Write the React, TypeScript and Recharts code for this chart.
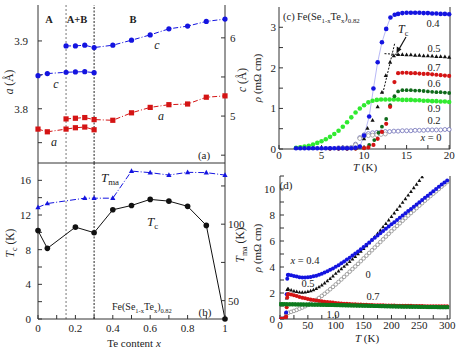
import React from 'react';
import { LineChart, Line, XAxis, YAxis, ReferenceLine } from 'recharts';

const FONT = '"Liberation Serif", "Times New Roman", serif';
const INK = '#222';

// ---------- panel (a): lattice parameters ----------
const aLowX = [0, 0.05, 0.15, 0.2, 0.25, 0.3];
const aLowA = [3.770, 3.766, 3.770, 3.772, 3.773, 3.769];
const aLowC = [5.517, 5.543, 5.56, 5.564, 5.568, 5.555];
const aUpX = [0.15, 0.2, 0.25, 0.3, 0.4, 0.5, 0.6, 0.7, 0.8, 0.9, 1.0];
const aUpA = [3.785, 3.786, 3.787, 3.784, 3.783, 3.794, 3.802, 3.806, 3.807, 3.817, 3.819];
const aUpC = [5.897, 5.897, 5.906, 5.876, 5.906, 5.97, 6.038, 6.115, 6.15, 6.21, 6.24];

// ---------- panel (b): Tc and Tma ----------
const tcX = [0, 0.05, 0.2, 0.3, 0.4, 0.5, 0.6, 0.7, 0.8, 0.9, 1.0];
const tcV = [10.2, 8.15, 10.6, 9.96, 12.6, 13.1, 13.8, 13.6, 13.0, 10.8, 0];
const tmaX = [0, 0.05, 0.25, 0.3, 0.4, 0.5, 0.6, 0.7, 0.8, 0.9, 1.0];
const tmaV = [111, 113.5, 117, 117, 117, 134.7, 133.7, 132.1, 133.9, 133.7, 132.1];

const xTicks01 = [0, 0.1, 0.2, 0.3, 0.4, 0.5, 0.6, 0.7, 0.8, 0.9, 1];

// ---------- panel (c): low-T resistivity [T, rho] ----------
const c04: [number, number][] = [[2,0.02],[2.5,0.02],[3,0.02],[3.5,0.02],[4,0.02],[4.5,0.02],[5,0.02],[5.5,0.02],[6,0.02],[6.5,0.02],[7,0.02],[7.5,0.02],[8,0.02],[8.5,0.02],[9,0.03],[9.5,0.06],[10,0.33],[10.6,0.8],[11.1,1.49],[11.6,2.14],[12.1,2.63],[12.6,2.96],[13.1,3.24],[13.6,3.31],[14,3.33],[14.5,3.35],[15,3.36],[15.5,3.36],[16,3.36],[16.5,3.36],[17,3.35],[17.5,3.35],[18,3.34],[18.5,3.34],[19,3.33],[19.5,3.33],[20,3.32]];
const c05: [number, number][] = [[4,0.02],[5,0.02],[6,0.02],[7,0.02],[8,0.02],[9,0.03],[9.5,0.05],[10,0.25],[10.4,0.51],[11,0.71],[11.6,1.04],[12.1,1.4],[12.55,1.81],[13.06,2.14],[13.5,2.3],[14,2.33],[14.5,2.33],[15,2.32],[15.5,2.32],[16,2.31],[16.5,2.31],[17,2.3],[17.5,2.3],[18,2.29],[18.5,2.28],[19,2.28],[19.5,2.27],[20,2.26]];
const c07: [number, number][] = [[6,0.01],[7,0.01],[8,0.01],[9,0.01],[10,0.02],[10.5,0.04],[11.1,0.1],[11.6,0.25],[12.1,0.42],[12.6,0.62],[13.06,1.04],[13.57,1.65],[14,1.87],[14.5,1.88],[15,1.88],[15.5,1.87],[16,1.87],[16.5,1.86],[17,1.85],[17.5,1.85],[18,1.84],[18.5,1.83],[19,1.82],[19.5,1.81],[20,1.8]];
const c06: [number, number][] = [[6,0.01],[7,0.01],[8,0.01],[9,0.01],[10,0.03],[10.6,0.1],[11.2,0.22],[11.7,0.4],[12.1,0.55],[12.6,0.74],[13.06,1.08],[13.57,1.3],[14,1.42],[14.5,1.45],[15,1.45],[15.5,1.45],[16,1.44],[16.5,1.44],[17,1.43],[17.5,1.42],[18,1.41],[18.5,1.4],[19,1.4],[19.5,1.39],[20,1.38]];
const c09: [number, number][] = [[2,0.03],[2.5,0.04],[3,0.06],[3.5,0.08],[4,0.11],[4.5,0.15],[5,0.19],[5.5,0.24],[6,0.3],[6.5,0.37],[7,0.45],[7.5,0.55],[8,0.66],[8.5,0.78],[9,0.9],[9.5,1.0],[10,1.08],[10.5,1.15],[11,1.19],[11.5,1.21],[12,1.22],[12.5,1.22],[13,1.22],[13.5,1.22],[14,1.22],[14.5,1.21],[15,1.21],[15.5,1.21],[16,1.2],[16.5,1.2],[17,1.19],[17.5,1.19],[18,1.18],[18.5,1.18],[19,1.17],[19.5,1.17],[20,1.16]];
const c02: [number, number][] = [[8,0.02],[8.5,0.03],[9,0.1],[9.5,0.26],[10,0.31],[10.5,0.33],[11,0.34],[11.5,0.35],[12,0.36],[12.5,0.37]];
const c00: [number, number][] = [[7,0.03],[7.5,0.03],[8,0.03],[8.5,0.04],[9,0.12],[9.5,0.28],[10,0.35],[10.5,0.38],[11,0.4],[11.5,0.41],[12,0.42],[12.5,0.43],[13,0.43],[13.5,0.44],[14,0.44],[14.5,0.45],[15,0.45],[15.5,0.45],[16,0.46],[16.5,0.46],[17,0.46],[17.5,0.47],[18,0.47],[18.5,0.47],[19,0.47],[19.5,0.48],[20,0.48]];

// ---------- panel (d): resistivity up to 300 K [T, rho] ----------
const d04: [number, number][] = [[2,0.02],[4,0.02],[6,0.02],[8,0.03],[10,0.1],[11,0.5],[12,1.9],[13,3.1],[14,3.38],[15,3.4],[20,3.36],[25,3.3],[30,3.26],[35,3.22],[40,3.2],[45,3.2],[50,3.21],[55,3.24],[60,3.28],[65,3.33],[70,3.4],[75,3.48],[80,3.57],[85,3.67],[90,3.78],[95,3.89],[100,4.01],[105,4.14],[110,4.28],[115,4.42],[120,4.57],[125,4.72],[130,4.88],[135,5.04],[140,5.2],[145,5.37],[150,5.54],[155,5.71],[160,5.89],[165,6.07],[170,6.25],[175,6.42],[180,6.6],[185,6.77],[190,6.94],[195,7.11],[200,7.28],[205,7.45],[210,7.62],[215,7.79],[220,7.96],[225,8.13],[230,8.3],[235,8.47],[240,8.64],[245,8.81],[250,8.98],[255,9.15],[260,9.32],[265,9.49],[270,9.66],[275,9.83],[280,10.0],[285,10.17],[290,10.34],[295,10.5],[300,10.66]];
const d05: [number, number][] = [[2,0.02],[5,0.02],[8,0.03],[10,0.1],[11,0.5],[12,1.6],[13,2.25],[14,2.32],[15,2.3],[20,2.22],[25,2.15],[30,2.1],[35,2.06],[40,2.05],[45,2.06],[50,2.1],[55,2.16],[60,2.24],[65,2.34],[70,2.46],[75,2.6],[80,2.76],[85,2.93],[90,3.1],[95,3.3],[100,3.5],[105,3.68],[110,3.86],[115,4.04],[120,4.22],[125,4.41],[130,4.6],[135,4.8],[140,5.0],[145,5.2],[150,5.41],[155,5.63],[160,5.85],[165,6.08],[170,6.32],[175,6.57],[180,6.82],[185,7.08],[190,7.34],[195,7.6],[200,7.87],[205,8.14],[210,8.41],[215,8.68],[220,8.96],[225,9.24],[230,9.52],[235,9.8],[240,10.08],[245,10.36],[250,10.64],[255,10.92]];
const d00: [number, number][] = [[2,0.02],[5,0.02],[8,0.03],[10,0.15],[11,0.38],[12,0.45],[15,0.48],[20,0.55],[25,0.62],[30,0.7],[35,0.79],[40,0.88],[45,0.98],[50,1.08],[55,1.2],[60,1.33],[65,1.47],[70,1.62],[75,1.78],[80,1.94],[85,2.11],[90,2.29],[95,2.47],[100,2.66],[105,2.85],[110,3.04],[115,3.24],[120,3.44],[125,3.64],[130,3.84],[135,4.04],[140,4.24],[145,4.45],[150,4.66],[155,4.87],[160,5.08],[165,5.29],[170,5.5],[175,5.71],[180,5.92],[185,6.13],[190,6.34],[195,6.55],[200,6.76],[205,6.96],[210,7.16],[215,7.36],[220,7.56],[225,7.76],[230,7.96],[235,8.15],[240,8.34],[245,8.53],[250,8.72],[255,8.91],[260,9.1],[265,9.28],[270,9.46],[275,9.64],[280,9.82],[285,10.0],[290,10.18],[295,10.36],[300,10.54]];
const d07: [number, number][] = [[2,0.02],[5,0.02],[8,0.03],[10,0.05],[11,0.2],[12,0.9],[13,1.65],[14,1.88],[15,1.92],[20,1.88],[25,1.82],[30,1.76],[35,1.7],[40,1.64],[45,1.59],[50,1.54],[55,1.5],[60,1.46],[65,1.42],[70,1.39],[75,1.36],[80,1.33],[85,1.3],[90,1.28],[95,1.26],[100,1.24],[105,1.22],[110,1.2],[115,1.18],[120,1.17],[125,1.15],[130,1.14],[135,1.13],[140,1.12],[145,1.11],[150,1.1],[155,1.09],[160,1.08],[165,1.07],[170,1.06],[175,1.06],[180,1.05],[185,1.05],[190,1.04],[195,1.04],[200,1.03],[205,1.03],[210,1.02],[215,1.02],[220,1.02],[225,1.01],[230,1.01],[235,1.01],[240,1.0],[245,1.0],[250,1.0],[255,1.0],[260,0.99],[265,0.99],[270,0.99],[275,0.99],[280,0.98],[285,0.98],[290,0.98],[295,0.98],[300,0.98]];
const d10: [number, number][] = [[2,1.14],[5,1.14],[10,1.14],[15,1.13],[20,1.13],[25,1.13],[30,1.12],[35,1.12],[40,1.12],[45,1.11],[50,1.11],[55,1.11],[60,1.1],[65,1.1],[70,1.1],[75,1.09],[80,1.09],[85,1.08],[90,1.08],[95,1.08],[100,1.07],[105,1.07],[110,1.06],[115,1.06],[120,1.05],[125,1.05],[130,1.04],[135,1.04],[140,1.03],[145,1.03],[150,1.02],[155,1.02],[160,1.01],[165,1.01],[170,1.0],[175,1.0],[180,0.99],[185,0.99],[190,0.98],[195,0.98],[200,0.97],[205,0.97],[210,0.96],[215,0.96],[220,0.95],[225,0.95],[230,0.95],[235,0.94],[240,0.94],[245,0.94],[250,0.93],[255,0.93],[260,0.93],[265,0.92],[270,0.92],[275,0.92],[280,0.92],[285,0.91],[290,0.91],[295,0.91],[300,0.91]];

const zip = (xs: number[], ys: number[]) => xs.map((x, i) => ({ x, y: ys[i] }));
const pts = (arr: [number, number][]) => arr.map(([x, y]) => ({ x, y }));

const BLUE = '#1414e0';
const RED = '#d41414';
const DKGREEN = '#0f6a1a';
const LTGREEN = '#30ea30';

const mkDot = (kind: string, color: string, s: number) => (p: any) => {
  const { cx, cy, index } = p;
  const k = `d${index}`;
  if (cx == null || cy == null || isNaN(cx) || isNaN(cy)) return <g key={k} />;
  if (kind === 'square') return <rect key={k} x={cx - s} y={cy - s} width={2 * s} height={2 * s} fill={color} />;
  if (kind === 'triangle')
    return <polygon key={k} points={`${cx},${cy - s * 1.1} ${cx - s},${cy + s * 0.7} ${cx + s},${cy + s * 0.7}`} fill={color} />;
  if (kind === 'open') return <circle key={k} cx={cx} cy={cy} r={s} fill="#fff" stroke={color} strokeWidth={0.8} />;
  return <circle key={k} cx={cx} cy={cy} r={s} fill={color} />;
};

const tickStyle = { fontSize: 11, fill: INK, fontFamily: FONT };
const axLine = { stroke: '#333', strokeWidth: 1 };

const fmt01 = (v: number) => (Math.round(v * 10) % 2 === 0 ? String(v) : '');

function PanelA() {
  return (
    <LineChart width={250} height={170} margin={{ top: 5, right: 0, bottom: 0, left: 0 }}>
      <XAxis xAxisId="b" type="number" dataKey="x" domain={[0, 1]} ticks={xTicks01} interval={0} tick={false}
        tickSize={-4} height={7} axisLine={axLine} tickLine={axLine} />
      <XAxis xAxisId="t" orientation="top" type="number" dataKey="x" domain={[0, 1]} ticks={xTicks01} interval={0}
        tick={false} tickSize={-4} height={0} axisLine={axLine} tickLine={axLine} />
      <YAxis yAxisId="a" type="number" domain={[3.72, 3.953]} ticks={[3.75, 3.8, 3.85, 3.9]} interval={0}
        tickFormatter={(v: number) => (Math.abs(v * 10 - Math.round(v * 10)) < 1e-6 ? v.toFixed(1) : '')}
        width={38} tickSize={-4} tickMargin={14} tick={tickStyle} axisLine={axLine} tickLine={axLine} allowDataOverflow />
      <YAxis yAxisId="c" orientation="right" type="number" domain={[4.4, 6.42]} ticks={[4.5, 5, 5.5, 6]} interval={0}
        tickFormatter={(v: number) => (Number.isInteger(v) ? String(v) : '')}
        width={25} tickSize={-4} tickMargin={9} tick={tickStyle} axisLine={axLine} tickLine={axLine} allowDataOverflow />
      <ReferenceLine xAxisId="b" yAxisId="a" x={0.15} stroke="#777" strokeDasharray="2 2" />
      <ReferenceLine xAxisId="b" yAxisId="a" x={0.3} stroke="#222" strokeDasharray="2 1.5" />
      <Line xAxisId="b" yAxisId="c" data={zip(aUpX, aUpC)} dataKey="y" stroke={BLUE} strokeWidth={1}
        strokeDasharray="5 2 1 2" dot={mkDot('circle', BLUE, 2.6)} activeDot={false} isAnimationActive={false} />
      <Line xAxisId="b" yAxisId="c" data={zip(aLowX, aLowC)} dataKey="y" stroke={BLUE} strokeWidth={1}
        strokeDasharray="5 2 1 2" dot={mkDot('circle', BLUE, 2.6)} activeDot={false} isAnimationActive={false} />
      <Line xAxisId="b" yAxisId="a" data={zip(aUpX, aUpA)} dataKey="y" stroke={RED} strokeWidth={1}
        strokeDasharray="5 2 1 2" dot={mkDot('square', RED, 2.6)} activeDot={false} isAnimationActive={false} />
      <Line xAxisId="b" yAxisId="a" data={zip(aLowX, aLowA)} dataKey="y" stroke={RED} strokeWidth={1}
        strokeDasharray="5 2 1 2" dot={mkDot('square', RED, 2.6)} activeDot={false} isAnimationActive={false} />
    </LineChart>
  );
}

function PanelB() {
  return (
    <LineChart width={250} height={187} margin={{ top: 0, right: 0, bottom: 0, left: 0 }}>
      <XAxis xAxisId="b" type="number" dataKey="x" domain={[0, 1]} ticks={xTicks01} interval={0} tickFormatter={fmt01}
        tickSize={-4} tickMargin={9} height={31} tick={tickStyle} axisLine={axLine} tickLine={axLine} />
      <XAxis xAxisId="t" orientation="top" type="number" dataKey="x" domain={[0, 1]} ticks={xTicks01} interval={0}
        tick={false} tickSize={-4} height={0} axisLine={axLine} tickLine={axLine} />
      <YAxis yAxisId="l" type="number" domain={[0, 18]} ticks={[0, 2, 4, 6, 8, 10, 12, 14, 16]} interval={0}
        tickFormatter={(v: number) => (v % 4 === 0 ? String(v) : '')}
        width={38} tickSize={-4} tickMargin={11} tick={tickStyle} axisLine={axLine} tickLine={axLine} />
      <YAxis yAxisId="r" orientation="right" type="number" domain={[38, 140]} ticks={[50, 75, 100, 125]} interval={0}
        tickFormatter={(v: number) => (v % 50 === 0 ? String(v) : '')}
        width={25} tickSize={-4} tickMargin={7} tick={tickStyle} axisLine={axLine} tickLine={axLine} />
      <ReferenceLine xAxisId="b" yAxisId="l" x={0.15} stroke="#777" strokeDasharray="2 2" />
      <ReferenceLine xAxisId="b" yAxisId="l" x={0.3} stroke="#222" strokeDasharray="2 1.5" />
      <Line xAxisId="b" yAxisId="r" data={zip(tmaX, tmaV)} dataKey="y" stroke={BLUE} strokeWidth={1}
        strokeDasharray="6 2 1 2" dot={mkDot('triangle', BLUE, 2.6)} activeDot={false} isAnimationActive={false} />
      <Line xAxisId="b" yAxisId="l" data={zip(tcX, tcV)} dataKey="y" stroke="#111" strokeWidth={1}
        dot={mkDot('circle', '#111', 2.8)} activeDot={false} isAnimationActive={false} />
    </LineChart>
  );
}

function PanelC() {
  const common = { xAxisId: 'b', yAxisId: 'l', dataKey: 'y', activeDot: false, isAnimationActive: false } as const;
  return (
    <LineChart width={223} height={175} margin={{ top: 7, right: 12, bottom: 0, left: 0 }}>
      <XAxis xAxisId="b" type="number" dataKey="x" domain={[0, 20.1]} ticks={[0, 2.5, 5, 7.5, 10, 12.5, 15, 17.5, 20]}
        interval={0} tickFormatter={(v: number) => (v % 5 === 0 ? String(v) : '')} tickSize={-4} tickMargin={6}
        height={26} tick={tickStyle} axisLine={axLine} tickLine={axLine} />
      <XAxis xAxisId="t" orientation="top" type="number" dataKey="x" domain={[0, 20.1]}
        ticks={[0, 2.5, 5, 7.5, 10, 12.5, 15, 17.5, 20]} interval={0} tick={false} tickSize={-4} height={0}
        axisLine={axLine} tickLine={axLine} />
      <YAxis yAxisId="l" type="number" domain={[0, 3.5]} ticks={[0, 0.5, 1, 1.5, 2, 2.5, 3]} interval={0}
        tickFormatter={(v: number) => (Number.isInteger(v) ? String(v) : '')} width={39} tickSize={-4}
        tickMargin={7} tick={tickStyle} axisLine={axLine} tickLine={axLine} />
      <YAxis yAxisId="r" orientation="right" type="number" domain={[0, 3.5]} ticks={[0, 0.5, 1, 1.5, 2, 2.5, 3]}
        interval={0} tick={false} width={1} tickSize={-4} axisLine={axLine} tickLine={axLine} />
      <ReferenceLine xAxisId="b" yAxisId="l" segment={[{ x: 12.2, y: 1.37 }, { x: 13.62, y: 2.62 }]}
        stroke="#111" strokeDasharray="2 1.5" />
      <ReferenceLine xAxisId="b" yAxisId="l" segment={[{ x: 12.4, y: 2.35 }, { x: 14.2, y: 2.33 }]}
        stroke="#111" strokeDasharray="2 1.5" />
      <Line {...common} data={pts(c00)} stroke="none" dot={mkDot('open', '#6f6fb8', 2)} />
      <Line {...common} data={pts(c02)} stroke="none" dot={mkDot('open', '#9a9a9a', 2)} />
      <Line {...common} data={pts(c09)} stroke="none" dot={mkDot('circle', LTGREEN, 2.3)} />
      <Line {...common} data={pts(c06)} stroke="none" dot={mkDot('circle', DKGREEN, 1.9)} />
      <Line {...common} data={pts(c07)} stroke="none" dot={mkDot('circle', RED, 2.1)} />
      <Line {...common} data={pts(c05)} stroke="none" dot={mkDot('triangle', '#111', 2.1)} />
      <Line {...common} data={pts(c04)} stroke="#9a9af0" strokeWidth={0.7} dot={mkDot('circle', BLUE, 2.3)} />
    </LineChart>
  );
}

function PanelD() {
  const common = { xAxisId: 'b', yAxisId: 'l', dataKey: 'y', activeDot: false, isAnimationActive: false } as const;
  const xt = [0, 25, 50, 75, 100, 125, 150, 175, 200, 225, 250, 275, 300];
  const yt = [0, 1, 2, 3, 4, 5, 6, 7, 8, 9, 10, 11];
  return (
    <LineChart width={223} height={180} margin={{ top: 6, right: 12, bottom: 0, left: 0 }}>
      <XAxis xAxisId="b" type="number" dataKey="x" domain={[0, 305]} ticks={xt} interval={0}
        tickFormatter={(v: number) => (v % 50 === 0 ? String(v) : '')} tickSize={-4} tickMargin={6}
        height={31} tick={tickStyle} axisLine={axLine} tickLine={axLine} />
      <XAxis xAxisId="t" orientation="top" type="number" dataKey="x" domain={[0, 305]} ticks={xt} interval={0}
        tick={false} tickSize={-4} height={0} axisLine={axLine} tickLine={axLine} />
      <YAxis yAxisId="l" type="number" domain={[0, 11]} ticks={yt} interval={0} allowDataOverflow
        tickFormatter={(v: number) => (v % 2 === 0 ? String(v) : '')} width={40} tickSize={-4}
        tickMargin={9} tick={tickStyle} axisLine={axLine} tickLine={axLine} />
      <YAxis yAxisId="r" orientation="right" type="number" domain={[0, 11]} ticks={yt} interval={0}
        tick={false} width={1} tickSize={-4} axisLine={axLine} tickLine={axLine} />
      <Line {...common} data={pts(d00)} stroke="none" dot={mkDot('open', '#8a8a8a', 1.8)} />
      <Line {...common} data={pts(d05)} stroke="none" dot={mkDot('triangle', '#111', 1.9)} />
      <Line {...common} data={pts(d04)} stroke="none" dot={mkDot('circle', BLUE, 2)} />
      <Line {...common} data={pts(d07)} stroke="none" dot={mkDot('circle', RED, 2)} />
      <Line {...common} data={pts(d10)} stroke="none" dot={mkDot('square', '#0d7a1e', 2)} />
    </LineChart>
  );
}

function Sub({ x, y, main, sub, size = 12, italic = true, anchor = 'start' }: any) {
  return (
    <text x={x} y={y} fontSize={size} textAnchor={anchor}>
      <tspan fontStyle={italic ? 'italic' : 'normal'}>{main}</tspan>
      <tspan fontSize={size * 0.68} dy={3}>{sub}</tspan>
    </text>
  );
}

function Formula({ x, y, size = 11 }: any) {
  const s = size * 0.65;
  return (
    <text x={x} y={y} fontSize={size}>
      <tspan>Fe(Se</tspan>
      <tspan fontSize={s} dy={3}>1-x</tspan>
      <tspan dy={-3}>Te</tspan>
      <tspan fontSize={s} dy={3}>x</tspan>
      <tspan dy={-3}>)</tspan>
      <tspan fontSize={s} dy={3}>0.82</tspan>
    </text>
  );
}

function Overlay() {
  return (
    <svg width={463} height={350} style={{ position: 'absolute', left: 0, top: 0, pointerEvents: 'none' }}
      fontFamily={FONT} fill={INK}>
      {/* panel (a) */}
      <text x={49} y={23} fontSize={10.5} fontWeight="bold" textAnchor="middle">A</text>
      <text x={77} y={23} fontSize={10.5} fontWeight="bold" textAnchor="middle">A+B</text>
      <text x={133} y={23} fontSize={10.5} fontWeight="bold" textAnchor="middle">B</text>
      <text x={56} y={88} fontSize={12} fontStyle="italic" textAnchor="middle">c</text>
      <text x={157} y={49} fontSize={12} fontStyle="italic" textAnchor="middle">c</text>
      <text x={54} y={146} fontSize={12} fontStyle="italic" textAnchor="middle">a</text>
      <text x={161} y={120} fontSize={12} fontStyle="italic" textAnchor="middle">a</text>
      <text x={204} y={159} fontSize={11} textAnchor="middle">(a)</text>
      <text x={13} y={82} fontSize={11.5} textAnchor="middle" transform="rotate(-90 13 82)">
        <tspan fontStyle="italic">a</tspan> (Å)
      </text>
      <text x={246} y={80} fontSize={11.5} textAnchor="middle" transform="rotate(-90 246 80)">
        <tspan fontStyle="italic">c</tspan> (Å)
      </text>
      {/* panel (b) */}
      <Sub x={101} y={182} main="T" sub="ma" size={13} />
      <Sub x={147} y={226} main="T" sub="c" size={13} />
      <Formula x={112} y={310} size={10} />
      <text x={205} y={316} fontSize={11} textAnchor="middle">(b)</text>
      <text x={134} y={347} fontSize={11} textAnchor="middle">Te content <tspan fontStyle="italic">x</tspan></text>
      <text x={14} y={243} fontSize={11.5} textAnchor="middle" transform="rotate(-90 14 243)">
        <tspan fontStyle="italic">T</tspan><tspan fontSize={8} dy={3}>c</tspan><tspan dy={-3}> (K)</tspan>
      </text>
      <text x={244} y={245} fontSize={11.5} textAnchor="middle" transform="rotate(-90 244 245)">
        <tspan fontStyle="italic">T</tspan><tspan fontSize={8} dy={3}>ma</tspan><tspan dy={-3}> (K)</tspan>
      </text>
      {/* panel (c) */}
      <text x={283} y={20} fontSize={10.5}>(c)</text>
      <Formula x={297} y={20} size={10.5} />
      <Sub x={398} y={33} main="T" sub="c" size={12} />
      <line x1={406} y1={37} x2={398.5} y2={50} stroke="#111" strokeWidth={1.2} />
      <polygon points="396.5,53.5 396.8,46.5 401.5,49.2" fill="#111" />
      <text x={433} y={27} fontSize={10.5} textAnchor="middle">0.4</text>
      <text x={434} y={52} fontSize={10.5} textAnchor="middle">0.5</text>
      <text x={434} y={71} fontSize={10.5} textAnchor="middle">0.7</text>
      <text x={434} y={87} fontSize={10.5} textAnchor="middle">0.6</text>
      <text x={434} y={112} fontSize={10.5} textAnchor="middle">0.9</text>
      <text x={434} y={124} fontSize={10.5} textAnchor="middle">0.2</text>
      <text x={431} y={141} fontSize={10.5} textAnchor="middle"><tspan fontStyle="italic">x</tspan> = 0</text>
      <text x={365} y={171} fontSize={11} textAnchor="middle"><tspan fontStyle="italic">T</tspan> (K)</text>
      <text x={261} y={78} fontSize={11} textAnchor="middle" transform="rotate(-90 261 78)">
        <tspan fontStyle="italic">ρ</tspan> (mΩ cm)
      </text>
      {/* panel (d) */}
      <text x={286} y={189} fontSize={11} textAnchor="middle">(d)</text>
      <text x={305} y={264} fontSize={10.5} textAnchor="middle"><tspan fontStyle="italic">x</tspan> = 0.4</text>
      <text x={308} y={287} fontSize={10.5} textAnchor="middle">0.5</text>
      <text x={368} y={278} fontSize={10.5} textAnchor="middle">0</text>
      <text x={373} y={300} fontSize={10.5} textAnchor="middle">0.7</text>
      <text x={333} y={318} fontSize={10.5} textAnchor="middle">1.0</text>
      <text x={367} y={342} fontSize={11} textAnchor="middle"><tspan fontStyle="italic">T</tspan> (K)</text>
      <text x={261} y={248} fontSize={11} textAnchor="middle" transform="rotate(-90 261 248)">
        <tspan fontStyle="italic">ρ</tspan> (mΩ cm)
      </text>
    </svg>
  );
}

export default function App() {
  return (
    <div style={{ position: 'absolute', left: 0, top: 0, width: 463, height: 350, background: '#fff', fontFamily: FONT }}>
      <div style={{ position: 'absolute', left: 0, top: 0 }}><PanelA /></div>
      <div style={{ position: 'absolute', left: 0, top: 163 }}><PanelB /></div>
      <div style={{ position: 'absolute', left: 240, top: 0 }}><PanelC /></div>
      <div style={{ position: 'absolute', left: 240, top: 170 }}><PanelD /></div>
      <Overlay />
    </div>
  );
}
